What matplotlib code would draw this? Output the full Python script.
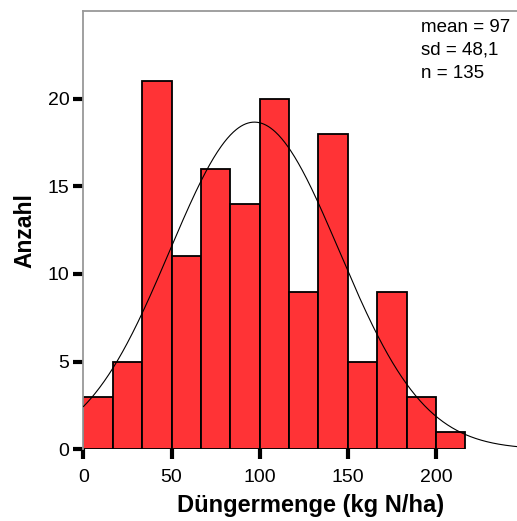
import numpy as np
import matplotlib
matplotlib.use("Agg")
import matplotlib.pyplot as plt

# Fertilizer amounts (kg N/ha): histogram counts per 16.67-wide class
bin_edges = [0, 16.67, 33.33, 50, 66.67, 83.33, 100, 116.67, 133.33, 150,
             166.67, 183.33, 200, 216.67]
counts = [3, 5, 21, 11, 16, 14, 20, 9, 18, 5, 9, 3, 1]
mean_val = 97
sd_val = 48.1
n_val = 135

plt.rcParams['font.family'] = ['Liberation Sans', 'DejaVu Sans']

fig = plt.figure(figsize=(5.17, 5.21), dpi=100)
ax = fig.add_axes([0.1615, 0.1376, 0.8385, 0.8413])

edges = np.array(bin_edges)
widths = np.diff(edges)
ax.bar(edges[:-1], counts, width=widths, align='edge', color='#ff3336',
       edgecolor='black', linewidth=1.3, zorder=2)

# Fitted normal curve scaled to counts
xs = np.linspace(0, 260, 600)
bw = widths.mean()
ys = n_val * bw / (sd_val * np.sqrt(2 * np.pi)) * np.exp(-0.5 * ((xs - mean_val) / sd_val) ** 2)
ax.plot(xs, ys, color='black', linewidth=0.8, zorder=3)

ax.set_xlim(0, 246)
ax.set_ylim(0, 25)
ax.set_xticks([0, 50, 100, 150, 200])
ax.set_yticks([0, 5, 10, 15, 20])
ax.tick_params(axis='both', direction='out', length=7, width=3, color='black',
               labelsize=14, pad=3)
ax.tick_params(axis='x', pad=7)

for side in ['right', 'bottom']:
    ax.spines[side].set_visible(False)
for side in ['top', 'left']:
    ax.spines[side].set_color('#999999')
    ax.spines[side].set_linewidth(1.3)

ax.set_ylabel('Anzahl', fontsize=16.5, fontweight='bold')
ax.yaxis.set_label_coords(-0.108, 0.5)
ax.set_xlabel('Düngermenge (kg N/ha)', fontsize=17, fontweight='bold')
ax.xaxis.set_label_coords(0.523, -0.103)

ax.text(0.778, 0.982, f'mean = {mean_val}\nsd = {str(sd_val).replace(".", ",")}\nn = {n_val}',
        transform=ax.transAxes, ha='left', va='top', fontsize=13.5, linespacing=1.45)

fig.savefig('out.png', dpi=100)
